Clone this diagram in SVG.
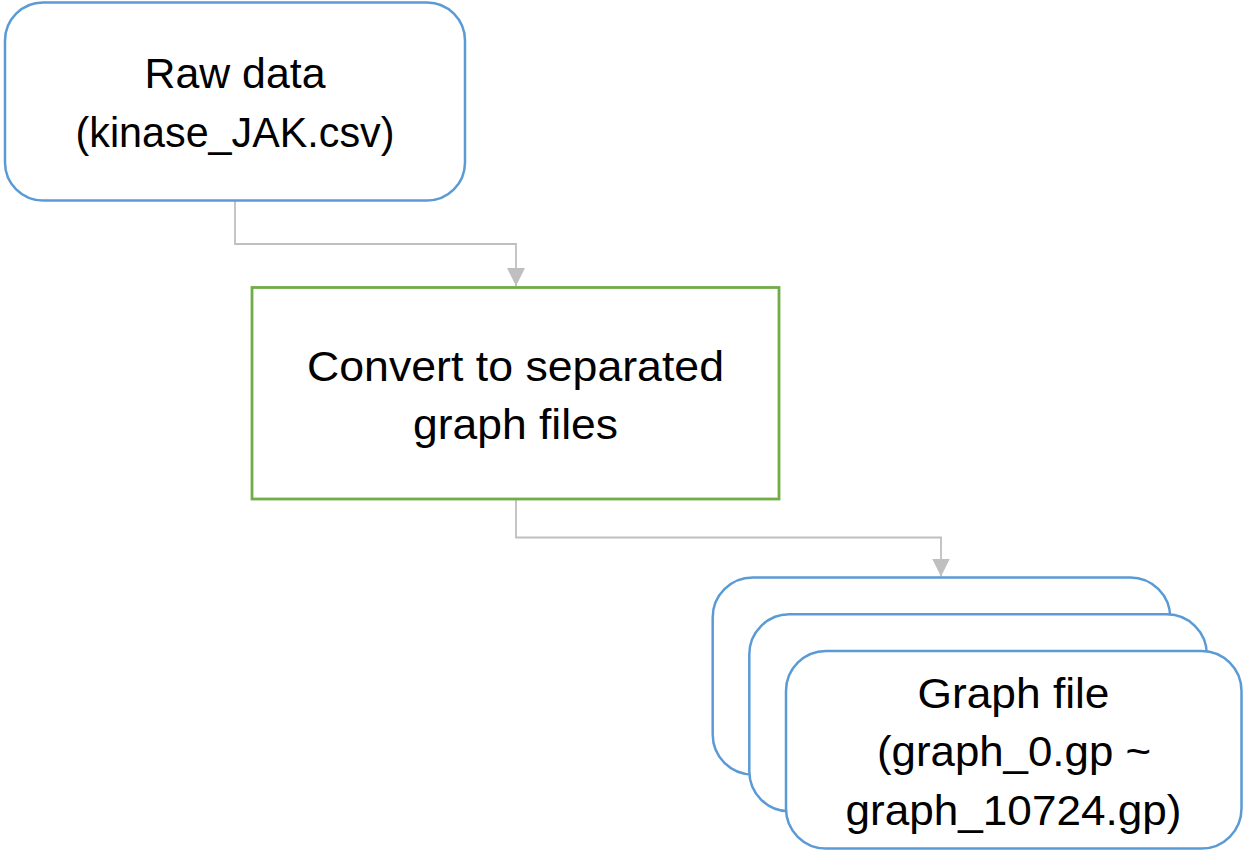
<svg xmlns="http://www.w3.org/2000/svg" width="1252" height="853" viewBox="0 0 1252 853">
  <style>
    .blue { fill: #FFFFFF; stroke: #5B9BD5; stroke-width: 2.5; }
    .green { fill: #FFFFFF; stroke: #70AD47; stroke-width: 2.8; }
    .conn { fill: none; stroke: #BFBFBF; stroke-width: 1.8; }
    .lbl { font-family: "Liberation Sans", Arial, sans-serif; font-size: 43px; fill: #000000; text-anchor: middle; }
  </style>
  <defs>
    <marker id="arrow" markerUnits="userSpaceOnUse" markerWidth="20" markerHeight="20" refX="18" refY="9" orient="auto">
      <path d="M0,0 L18,9 L0,18 Z" fill="#BFBFBF"/>
    </marker>
  </defs>
  <rect width="1252" height="853" fill="#FFFFFF"/>

  <g id="connectors">
    <path class="conn" d="M235,200 V244 H516 V286" marker-end="url(#arrow)"/>
    <path class="conn" d="M516,499 V537.5 H941 V576.5" marker-end="url(#arrow)"/>
  </g>

  <g id="raw-data">
    <rect class="blue" x="5" y="2.5" width="460" height="198" rx="38" ry="38"/>
    <text class="lbl" x="235" y="88" textLength="181" lengthAdjust="spacingAndGlyphs">Raw data</text>
    <text class="lbl" x="235" y="147" textLength="319" lengthAdjust="spacingAndGlyphs">(kinase_JAK.csv)</text>
  </g>

  <g id="convert">
    <rect class="green" x="252" y="287.5" width="527" height="211.5"/>
    <text class="lbl" x="515.5" y="380.5" textLength="417" lengthAdjust="spacingAndGlyphs">Convert to separated</text>
    <text class="lbl" x="515.5" y="438.5" textLength="205" lengthAdjust="spacingAndGlyphs">graph files</text>
  </g>

  <g id="graph-files">
    <rect class="blue" x="712.7" y="577.5" width="457.5" height="197" rx="40" ry="40"/>
    <rect class="blue" x="749.3" y="614.3" width="457.5" height="197" rx="40" ry="40"/>
    <rect class="blue" x="786" y="651" width="455.5" height="197.5" rx="40" ry="40"/>
    <text class="lbl" x="1013.5" y="707.5" textLength="192" lengthAdjust="spacingAndGlyphs">Graph file</text>
    <text class="lbl" x="1014" y="766" textLength="274" lengthAdjust="spacingAndGlyphs">(graph_0.gp ~</text>
    <text class="lbl" x="1013.5" y="824.5" textLength="336" lengthAdjust="spacingAndGlyphs">graph_10724.gp)</text>
  </g>
</svg>
